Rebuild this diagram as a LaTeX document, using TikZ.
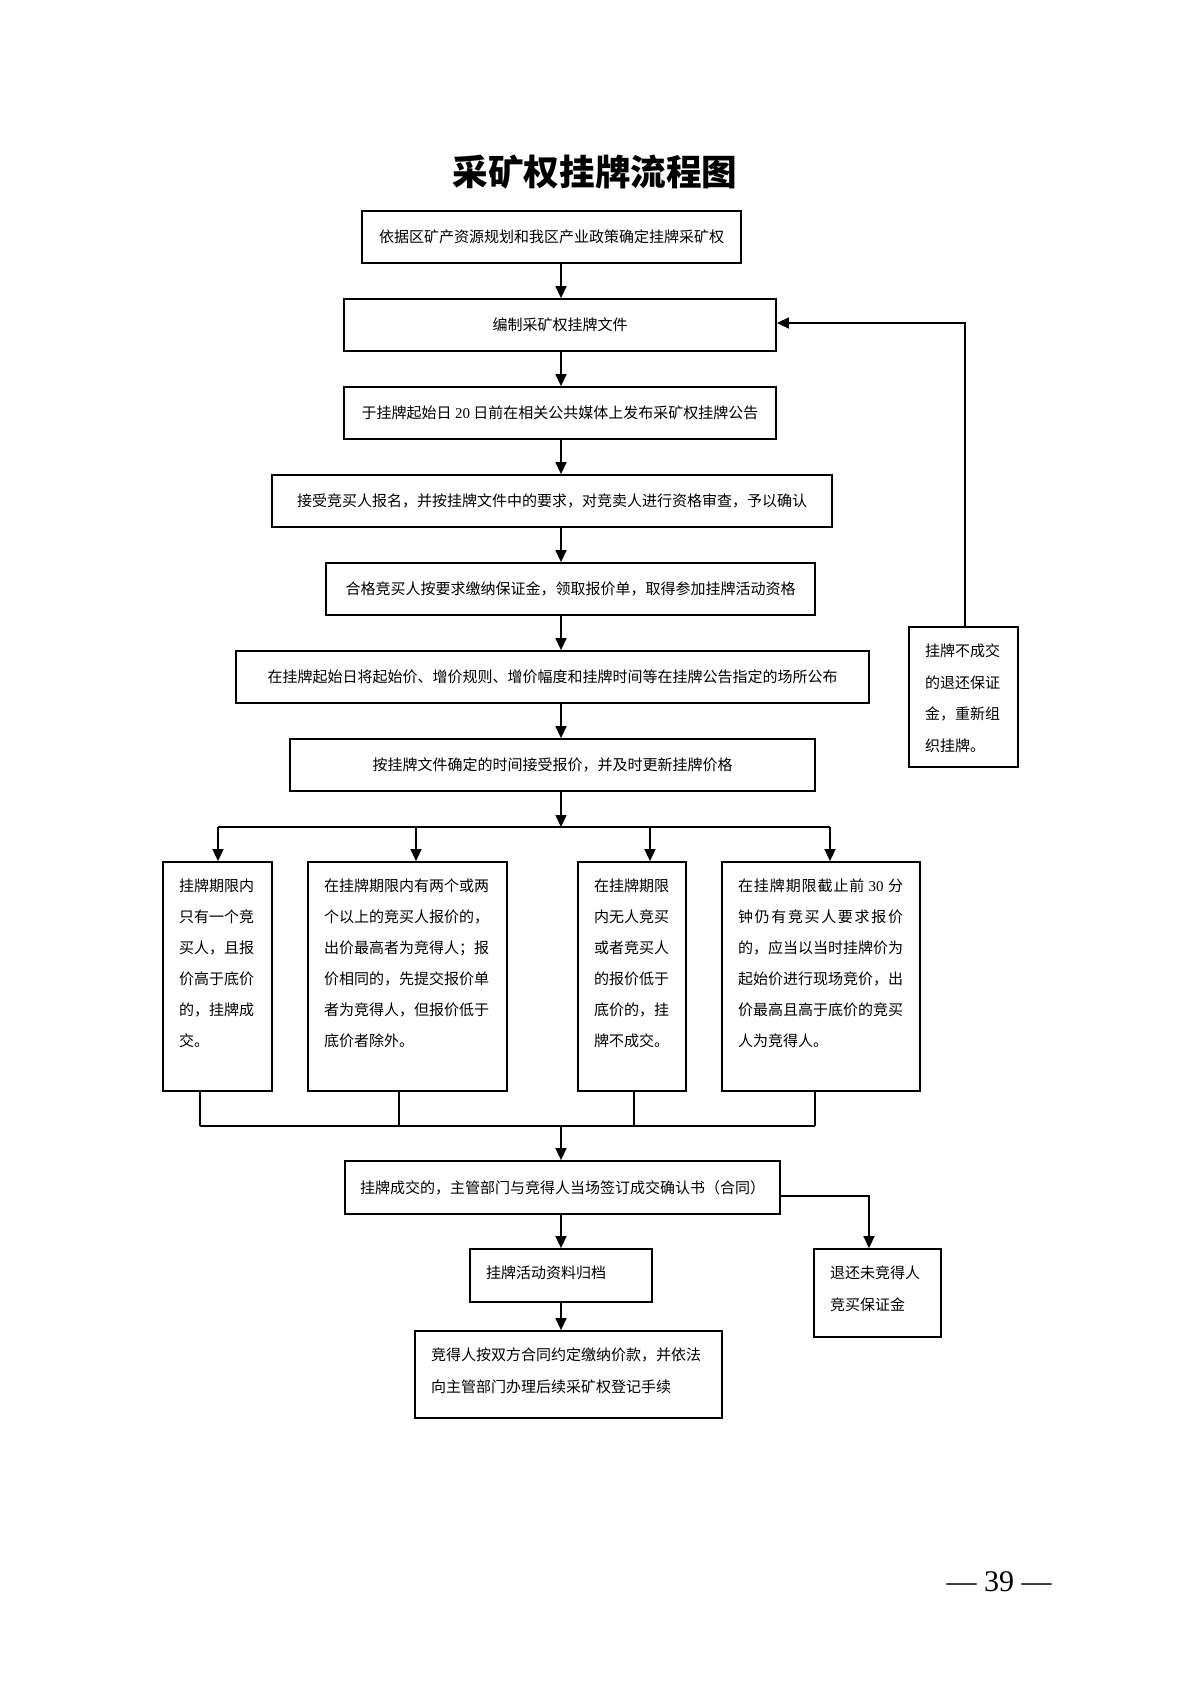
\documentclass[tikz,border=0pt]{standalone}
\usepackage{fontspec}
\usetikzlibrary{arrows.meta}
\newfontfamily\cjk{Noto Sans CJK SC}
\newfontfamily\numf{Liberation Serif}
\newcommand\ptext[4]{\parbox[c][#2][t]{#1}{\parskip=0pt\parindent=0pt\leftskip=8pt\rightskip=0pt plus 1fil\fontsize{7.5pt}{#3}\selectfont\vspace*{8.6pt}#4}}
\newcommand\sline[2]{\makebox[#1][s]{#2}}
\begin{document}
\begin{tikzpicture}[x=0.5pt,y=-0.5pt,
  box/.style={draw,line width=0.9pt,inner sep=0pt,align=center,font=\cjk\fontsize{7.5pt}{9pt}\selectfont,minimum height=26pt},
  tbox/.style={draw,line width=0.9pt,inner sep=0pt,font=\cjk},
  conn/.style={line width=0.75pt},
  arr/.style={line width=0.75pt,-{Triangle[length=6pt,width=5.5pt]}}]
\fill[white] (0,0) rectangle (1190,1683);
\useasboundingbox (0,0) rectangle (1190,1683);

\node[font=\cjk\bfseries\fontsize{17.8pt}{20pt}\selectfont] (title) at (595,172) {采矿权挂牌流程图};

\node[box,minimum width=189.5pt] (b1) at (551.5,237) {依据区矿产资源规划和我区产业政策确定挂牌采矿权};
\node[box,minimum width=216pt] (b2) at (560,325) {编制采矿权挂牌文件};
\node[box,minimum width=216pt] (b3) at (560,413) {于挂牌起始日 {\numf 20} 日前在相关公共媒体上发布采矿权挂牌公告};
\node[box,minimum width=280pt] (b4) at (552,501) {接受竞买人报名，并按挂牌文件中的要求，对竞卖人进行资格审查，予以确认};
\node[box,minimum width=244.5pt] (b5) at (570.5,589) {合格竞买人按要求缴纳保证金，领取报价单，取得参加挂牌活动资格};
\node[box,minimum width=316.5pt] (b6) at (552.5,677) {在挂牌起始日将起始价、增价规则、增价幅度和挂牌时间等在挂牌公告指定的场所公布};
\node[box,minimum width=262.5pt] (b7) at (552.5,765) {按挂牌文件确定的时间接受报价，并及时更新挂牌价格};

\node[tbox] (bA) at (217.5,976.5) {\ptext{54.5pt}{114.5pt}{15.5pt}{挂牌期限内\\只有一个竞\\买人，且报\\价高于底价\\的，挂牌成\\交。}};
\node[tbox] (bB) at (407.5,976.5) {\ptext{99.5pt}{114.5pt}{15.5pt}{在挂牌期限内有两个或两\\个以上的竞买人报价的，\\出价最高者为竞得人；报\\价相同的，先提交报价单\\者为竞得人，但报价低于\\底价者除外。}};
\node[tbox] (bC) at (632,976.5) {\ptext{54pt}{114.5pt}{15.5pt}{在挂牌期限\\内无人竞买\\或者竞买人\\的报价低于\\底价的，挂\\牌不成交。}};
\node[tbox] (bD) at (821,976.5) {\ptext{99pt}{114.5pt}{15.5pt}{\sline{82.5pt}{在\hfill 挂\hfill 牌\hfill 期\hfill 限\hfill 截\hfill 止\hfill 前\hfill\ {\numf 30}\ \hfill 分}\\\sline{82.5pt}{钟\hfill 仍\hfill 有\hfill 竞\hfill 买\hfill 人\hfill 要\hfill 求\hfill 报\hfill 价}\\的，应当以当时挂牌价为\\起始价进行现场竞价，出\\价最高且高于底价的竞买\\人为竞得人。}};

\node[box,minimum width=217.5pt,minimum height=26.5pt] (b8) at (562.5,1187.5) {挂牌成交的，主管部门与竞得人当场签订成交确认书（合同）};
\node[tbox] (arch) at (561,1275.5) {\ptext{91pt}{26.5pt}{16pt}{挂牌活动资料归档}};
\node[tbox] (refund) at (877.5,1293) {\ptext{63.5pt}{44pt}{16pt}{退还未竞得人\\竞买保证金}};
\node[tbox] (last) at (568.5,1374.5) {\ptext{153.5pt}{43.5pt}{16pt}{竞得人按双方合同约定缴纳价款，并依法\\向主管部门办理后续采矿权登记手续}};
\node[tbox] (side) at (963.5,697) {\ptext{54.5pt}{70pt}{15.75pt}{挂牌不成交\\的退还保证\\金，重新组\\织挂牌。}};

\node[font=\numf\fontsize{15pt}{15pt}\selectfont] (pnum) at (999,1582) {— 39 —};

\coordinate (X) at (561,0);
\coordinate (br) at (561,827);
\coordinate (pA) at (218,827);
\coordinate (pB) at (416,827);
\coordinate (pC) at (650,827);
\coordinate (pD) at (830,827);
\coordinate (qA) at (200,1126);
\coordinate (qB) at (399,1126);
\coordinate (qC) at (634,1126);
\coordinate (qD) at (815,1126);
\coordinate (rr) at (869,1196);
\coordinate (ss) at (965,323);

\draw[arr] (b1.south -| X) -- (b2.north -| X);
\draw[arr] (b2.south -| X) -- (b3.north -| X);
\draw[arr] (b3.south -| X) -- (b4.north -| X);
\draw[arr] (b4.south -| X) -- (b5.north -| X);
\draw[arr] (b5.south -| X) -- (b6.north -| X);
\draw[arr] (b6.south -| X) -- (b7.north -| X);
\draw[arr] (b7.south -| X) -- (br);
\draw[conn] (pA) -- (pD);
\draw[arr] (pA) -- (bA.north -| pA);
\draw[arr] (pB) -- (bB.north -| pB);
\draw[arr] (pC) -- (bC.north -| pC);
\draw[arr] (pD) -- (bD.north -| pD);
\draw[conn] (bA.south -| qA) -- (qA);
\draw[conn] (bB.south -| qB) -- (qB);
\draw[conn] (bC.south -| qC) -- (qC);
\draw[conn] (bD.south -| qD) -- (qD);
\draw[conn] (qA) -- (qD);
\draw[arr] (X |- qA) -- (b8.north -| X);
\draw[arr] (b8.south -| X) -- (arch.north -| X);
\draw[arr] (arch.south -| X) -- (last.north -| X);
\draw[arr] (b8.east |- rr) -| (refund.north -| rr);
\draw[arr] (side.north -| ss) |- (b2.east |- ss);
\end{tikzpicture}
\end{document}
